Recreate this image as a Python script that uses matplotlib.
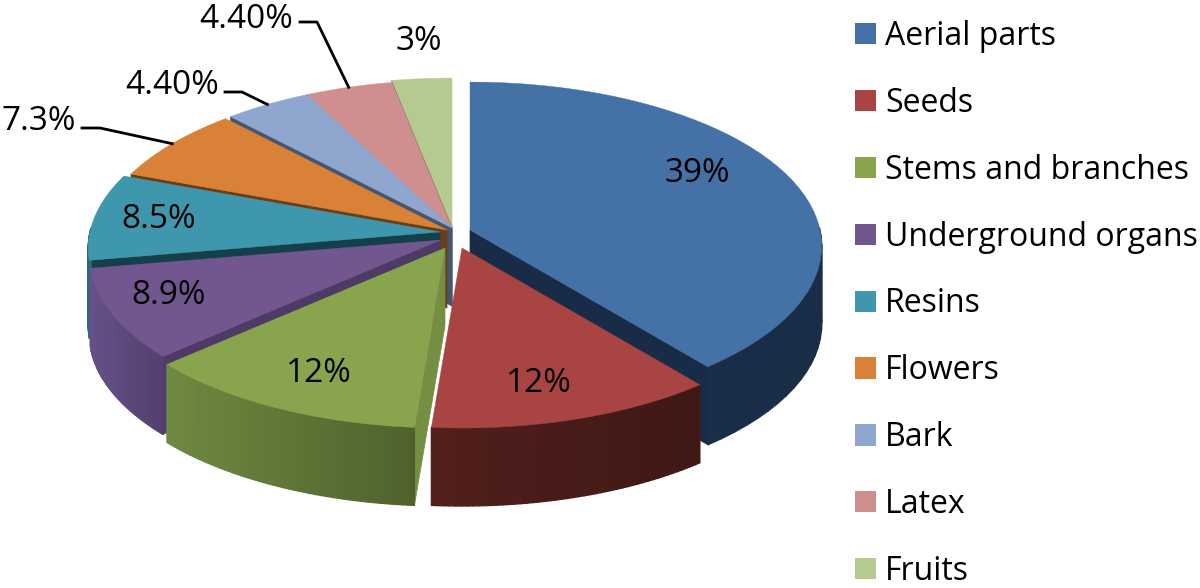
import numpy as np
import matplotlib.pyplot as plt
from matplotlib.collections import PolyCollection
from matplotlib.colors import to_rgb
from matplotlib.patches import Patch

plt.rcParams['font.family'] = ['Open Sans', 'DejaVu Sans']

parts = ['Aerial parts', 'Seeds', 'Stems and branches', 'Underground organs', 'Resins',
         'Flowers', 'Bark', 'Latex', 'Fruits']
values = [39, 12, 12, 8.9, 8.5, 7.3, 4.4, 4.4, 3]
value_labels = ['39%', '12%', '12%', '8.9%', '8.5%', '7.3%', '4.40%', '4.40%', '3%']

top_colors = ['#4471a6', '#a84442', '#88a54e', '#72568f', '#3f97ae', '#da8138', '#8fa6cf', '#cf8f8f', '#b4ca90']
wall_left = ['#1b2f4b', '#521f1c', '#6f8a42', '#67508a', '#2c6a7a', '#8a4f1e', '#5a6a88', '#855a5a', '#6f7f58']
wall_right = ['#1a2d47', '#3f1815', '#4f622c', '#54406e', '#245866', '#754418', '#4c5a74', '#704c4c', '#5f6d4a']
cut_faces = ['#182c47', '#4a1c1a', '#748f42', '#4d3b66', '#153f4b', '#6b3d14', '#47566f', '#5a4a4a', '#55604a']

# where each slice sits on the page, screen offsets of the exploded pieces
cx, cy = 452, 228
rx, ry, persp, depth = 350, 162.4, 0.0976, 78
shift_x = [18, 10, -7, -11, -12, -5, 0, 0, 0]
shift_y = [2, 20, 20, 12, 4, 2, 0, 0, -2]

# label centres and the elbow of the leader lines (None = no leader)
label_xy = [(697, 173), (539, 384), (319, 374), (169, 295), (159, 220), (39, 122), (172, 85), (246, 20), (419, 42)]
elbow_xy = [None, None, None, None, None, (100, 128), (242, 92), (317, 22), None]
line_start = [None, None, None, None, None, (82, 128), (225, 92), (300, 22), None]


def project(theta, r, i, z=0):
    u = np.cos(theta) * r
    v = np.sin(theta) * r
    w = 1 + persp * u
    return cx + shift_x[i] + rx * v / w, cy + shift_y[i] - ry * u / w + z


def lerp(c1, c2, t):
    a, b = np.array(to_rgb(c1)), np.array(to_rgb(c2))
    return a + (b - a) * t


fig = plt.figure(figsize=(12, 5.88), dpi=100)
ax = fig.add_axes([0, 0, 1, 1])
ax.set_xlim(0, 1200)
ax.set_ylim(588, 0)
ax.axis('off')

edges = np.radians(np.cumsum([0] + values) / np.sum(values) * 360)
mids = (edges[:-1] + edges[1:]) / 2

# back slices first, front ones paint over them
for rank, i in enumerate(np.argsort(-np.cos(mids))):
    ts = np.linspace(edges[i], edges[i + 1], 50)
    x0, y0 = project(0, 0, i)
    xs, ys = project(ts, 1, i)
    z = 2 + 0.1 * rank

    # cut faces, only the one turned to the viewer
    if np.sin(edges[i]) < -1e-6:
        quad = [(x0, y0), (xs[0], ys[0]), (xs[0], ys[0] + depth), (x0, y0 + depth)]
        ax.fill(*zip(*quad), color=cut_faces[i], lw=0.5, zorder=z)
    if np.sin(edges[i + 1]) > 1e-6:
        quad = [(x0, y0), (xs[-1], ys[-1]), (xs[-1], ys[-1] + depth), (x0, y0 + depth)]
        ax.fill(*zip(*quad), color=cut_faces[i], lw=0.5, zorder=z)

    # outer wall in thin strips, only the part that faces the viewer
    strips, cols = [], []
    xmin, xmax = xs.min(), xs.max()
    for k in range(len(ts) - 1):
        if np.cos((ts[k] + ts[k + 1]) / 2) > 0.02:
            continue
        strips.append([(xs[k], ys[k]), (xs[k + 1], ys[k + 1]),
                       (xs[k + 1], ys[k + 1] + depth), (xs[k], ys[k] + depth)])
        cols.append(lerp(wall_left[i], wall_right[i], (xs[k] - xmin) / max(xmax - xmin, 1)))
    if strips:
        ax.add_collection(PolyCollection(strips, facecolors=cols, edgecolors=cols, linewidths=1.0, zorder=z))

    ax.fill(np.r_[x0, xs], np.r_[y0, ys], color=top_colors[i], lw=0.3, zorder=z)

for i, lab in enumerate(value_labels):
    ax.text(label_xy[i][0], label_xy[i][1], lab, fontsize=24, ha='center', va='center', color='black', zorder=5)
    if elbow_xy[i] is not None:
        ex, ey = project(mids[i], 1, i)
        ax.plot([line_start[i][0], elbow_xy[i][0], ex], [line_start[i][1], elbow_xy[i][1], ey],
                color='black', lw=2, zorder=4)

handles = [Patch(facecolor=c, edgecolor='none') for c in top_colors]
ax.legend(handles, parts, loc='upper left', bbox_to_anchor=(855, 20), bbox_transform=ax.transData,
          frameon=False, fontsize=23, borderpad=0, borderaxespad=0, handlelength=0.65, handleheight=0.65,
          handletextpad=0.3, labelspacing=1.06)

fig.savefig('out.png', dpi=100)
